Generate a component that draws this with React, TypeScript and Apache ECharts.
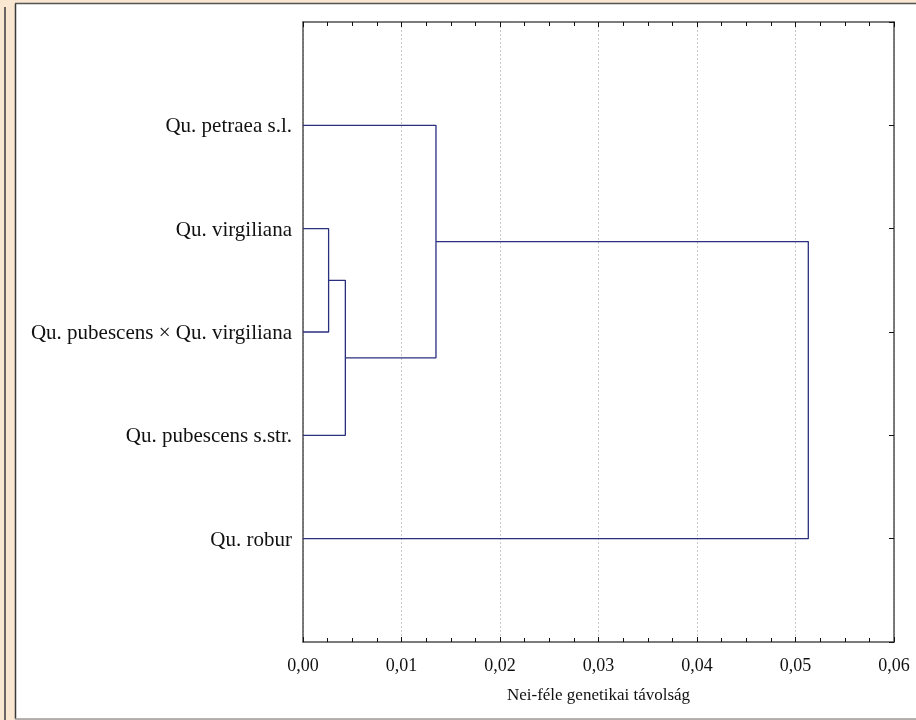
import React, { useEffect, useRef } from "react";
import * as echarts from "echarts";

const leaves = [
  "Qu. petraea s.l.",
  "Qu. virgiliana",
  "Qu. pubescens × Qu. virgiliana",
  "Qu. pubescens s.str.",
  "Qu. robur",
];
// merges: [childA, childB, distance]; leaves are 0..4, new clusters get ids 5, 6, ...
const mergeA = [1, 5, 0, 7];
const mergeB = [2, 3, 6, 4];
const mergeHeights = [0.0026, 0.0043, 0.0135, 0.0513];
const xTicks = [0, 0.01, 0.02, 0.03, 0.04, 0.05, 0.06];
const xTitle = "Nei-féle genetikai távolság";

const LINE = "#2a2f7e";
const AXIS = "#505050";
const FONT = "'Liberation Serif', 'Times New Roman', serif";

export default function App() {
  const ref = useRef<HTMLDivElement>(null);
  useEffect(() => {
    if (!ref.current) return;
    const chart = echarts.init(ref.current, null, { renderer: "svg" });

    const nodes: { x: number; y: number }[] = leaves.map((_, i) => ({ x: 0, y: i + 1 }));
    const series: any[] = [];
    mergeHeights.forEach((h, k) => {
      const a = nodes[mergeA[k]];
      const b = nodes[mergeB[k]];
      series.push({
        type: "line",
        data: [
          [a.x, a.y],
          [h, a.y],
          [h, b.y],
          [b.x, b.y],
        ],
        showSymbol: false,
        symbol: "none",
        lineStyle: { color: LINE, width: 1.3 },
        silent: true,
        xAxisIndex: 0,
        yAxisIndex: 0,
      });
      nodes.push({ x: h, y: (a.y + b.y) / 2 });
    });

    const catLabel = (v: number) => {
      const i = Math.round(v) - 1;
      return i >= 0 && i < leaves.length ? leaves[i] : "";
    };

    chart.setOption({
      animation: false,
      backgroundColor: "transparent",
      textStyle: { fontFamily: FONT },
      graphic: [
        { type: "rect", z: -10, silent: true, shape: { x: 0, y: 0, width: 916, height: 720 }, style: { fill: "#f9e7d1" } },
        { type: "line", z: -9, silent: true, shape: { x1: 5, y1: 7, x2: 5, y2: 720 }, style: { stroke: "#3a3a3a", lineWidth: 1.5 } },
        { type: "rect", z: -9, silent: true, shape: { x: 16, y: 4, width: 900, height: 715 }, style: { fill: "#ffffff" } },
        { type: "line", z: -8, silent: true, shape: { x1: 15.5, y1: 3.5, x2: 15.5, y2: 719 }, style: { stroke: "#3a3a3a", lineWidth: 1.5 } },
        { type: "line", z: -8, silent: true, shape: { x1: 15, y1: 3.5, x2: 916, y2: 3.5 }, style: { stroke: "#555555", lineWidth: 1.5 } },
        { type: "line", z: -8, silent: true, shape: { x1: 15, y1: 719, x2: 916, y2: 719 }, style: { stroke: "#9a9a9a", lineWidth: 1.5 } },
      ],
      grid: { left: 303, top: 22, right: 22, bottom: 78, containLabel: false },
      xAxis: [
        {
          type: "value",
          position: "bottom",
          min: 0,
          max: 0.06,
          interval: 0.01,
          name: xTitle,
          nameLocation: "middle",
          nameGap: 44,
          nameTextStyle: { fontFamily: FONT, fontSize: 17, color: "#111" },
          axisLine: { show: true, onZero: false, lineStyle: { color: AXIS, width: 1.5 } },
          axisTick: { show: true, inside: true, length: 5, lineStyle: { color: "#111" } },
          minorTick: { show: true, splitNumber: 4, length: 4, lineStyle: { color: "#111" } },
          axisLabel: {
            show: true,
            margin: 14,
            fontFamily: FONT,
            fontSize: 18,
            color: "#111",
            formatter: (v: number) => {
              const idx = xTicks.findIndex((t) => Math.abs(t - v) < 1e-9);
              return idx >= 0 ? xTicks[idx].toFixed(2).replace(".", ",") : "";
            },
          },
          splitLine: { show: true, lineStyle: { color: "#c8c8c8", type: [2, 2], width: 1 } },
          minorSplitLine: { show: false },
        },
        {
          type: "value",
          position: "top",
          min: 0,
          max: 0.06,
          interval: 0.01,
          axisLine: { show: true, onZero: false, lineStyle: { color: AXIS, width: 1.5 } },
          axisTick: { show: true, inside: true, length: 5, lineStyle: { color: "#111" } },
          minorTick: { show: true, splitNumber: 4, length: 4, lineStyle: { color: "#111" } },
          axisLabel: { show: false },
          splitLine: { show: false },
        },
      ],
      yAxis: [
        {
          type: "value",
          position: "left",
          inverse: true,
          min: 0,
          max: 6,
          interval: 1,
          axisLine: { show: true, onZero: false, lineStyle: { color: AXIS, width: 1.5 } },
          axisTick: { show: false },
          axisLabel: {
            show: true,
            margin: 11,
            fontFamily: FONT,
            fontSize: 21,
            color: "#111",
            formatter: catLabel,
          },
          splitLine: { show: false },
        },
        {
          type: "value",
          position: "right",
          inverse: true,
          min: 0,
          max: 6,
          interval: 1,
          axisLine: { show: true, onZero: false, lineStyle: { color: AXIS, width: 1.5 } },
          axisTick: {
            show: true,
            inside: true,
            length: 5,
            lineStyle: { color: "#111" },
            interval: (i: number, v: any) => {
              const n = Number(v);
              return n >= 1 && n <= leaves.length;
            },
          },
          axisLabel: { show: false },
          splitLine: { show: false },
        },
      ],
      series,
    });
    return () => chart.dispose();
  }, []);

  return (
    <div
      ref={ref}
      style={{ position: "fixed", left: 0, top: 0, width: 916, height: 720 }}
    />
  );
}
